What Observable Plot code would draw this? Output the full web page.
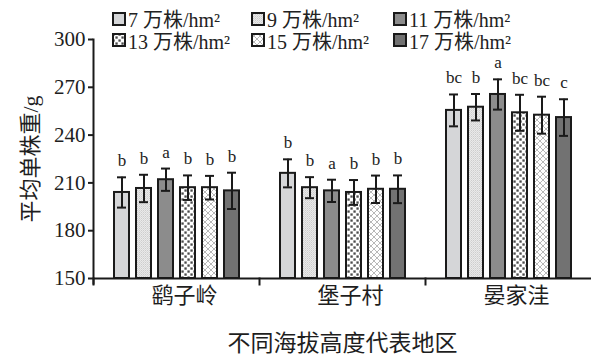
<!DOCTYPE html>
<html>
<head>
<meta charset="utf-8">
<script src="https://cdn.jsdelivr.net/npm/d3@7"></script>
<script src="https://cdn.jsdelivr.net/npm/@observablehq/plot@0.6"></script>
<style>
  body { margin: 0; background: #fff; }
  #wrap { position: relative; width: 592px; height: 356px; }
  .legend {
    position: absolute; left: 112px; top: 8px;
    display: grid; grid-template-columns: 139px 142px auto; grid-auto-rows: 21.5px;
    font-family: "Liberation Serif", "Noto Sans CJK SC", serif; font-size: 20px; color: #222;
  }
  .legend .item { display: flex; align-items: center; white-space: nowrap; }
  .legend svg { margin-right: 2px; flex: none; }
</style>
</head>
<body>
<div id="wrap"></div>
<script>
// Average single-plant weight (g) by planting density in three altitude regions
const regions = ["鹞子岭", "堡子村", "晏家洼"];
const densities = [7, 9, 11, 13, 15, 17];
const meanWeight = [
  [204, 206.5, 212, 207, 207, 205],
  [216, 207, 205, 204, 206, 206],
  [255.5, 257.5, 265.5, 254, 252.5, 251]
];
const sdWeight = [
  [9.5, 8.6, 7, 7.7, 7.4, 11.4],
  [8.8, 6.6, 7, 7.8, 8.6, 8.7],
  [10, 8.3, 9.5, 11.3, 11.6, 11.5]
];
const sigLetters = [
  ["b", "b", "a", "b", "b", "b"],
  ["b", "b", "a", "b", "b", "b"],
  ["bc", "b", "a", "bc", "bc", "c"]
];
const yTicks = [150, 180, 210, 240, 270, 300];
const yTitle = "平均单株重/g";
const xTitle = "不同海拔高度代表地区";

const rows = regions.flatMap((region, i) => densities.map((density, j) => ({
  region, density,
  mean: meanWeight[i][j], sd: sdWeight[i][j], letter: sigLetters[i][j]
})));

// Bar fills: solid greys plus three textures
const fills = ["#d5d6d8", "url(#tex9)", "#8c8c8c", "url(#tex13)", "url(#tex15)", "#727272"];

const defs = `
<svg width="0" height="0" style="position:absolute">
  <defs>
    <pattern id="tex9" width="2" height="2" patternUnits="userSpaceOnUse">
      <rect width="2" height="2" fill="#e9e9e9"/>
      <rect width="1" height="1" fill="#cdcdcd"/>
      <rect x="1" y="1" width="1" height="1" fill="#d9d9d9"/>
    </pattern>
    <pattern id="tex13" width="6" height="6" patternUnits="userSpaceOnUse">
      <rect width="6" height="6" fill="#fff"/>
      <rect x="0.4" y="0.4" width="2.3" height="2.3" fill="#4a4a4a"/>
      <rect x="3.4" y="3.4" width="2.3" height="2.3" fill="#4a4a4a"/>
    </pattern>
    <pattern id="tex15" width="6" height="6" patternUnits="userSpaceOnUse">
      <rect width="6" height="6" fill="#fff"/>
      <path d="M0,0L6,6M6,0L0,6" stroke="#9a9a9a" stroke-width="0.7"/>
    </pattern>
  </defs>
</svg>`;

const wrap = document.getElementById("wrap");
wrap.insertAdjacentHTML("beforeend", defs);

const serif = "'Liberation Serif', 'Noto Sans CJK SC', serif";
const ink = "#1e1e1e";

const chart = Plot.plot({
  width: 592,
  height: 356,
  marginTop: 39,
  marginBottom: 78,
  marginLeft: 92,
  marginRight: 0,
  style: { fontFamily: serif, color: ink, background: "transparent", overflow: "visible" },
  fx: { domain: regions, padding: 0 },
  x: { domain: densities, paddingInner: 0.32, paddingOuter: 0, insetLeft: 20.5, insetRight: 19.5, axis: null },
  y: { domain: [150, 300] },
  color: { type: "ordinal", domain: densities, range: fills },
  marks: [
    Plot.barY(rows, { fx: "region", x: "density", y1: 150, y2: "mean", fill: "density", stroke: "#1a1a1a", strokeWidth: 2 }),
    Plot.ruleX(rows, { fx: "region", x: "density", y1: d => d.mean - d.sd, y2: d => d.mean + d.sd, stroke: "#1a1a1a", strokeWidth: 2 }),
    Plot.tickY(rows, { fx: "region", x: "density", y: d => d.mean - d.sd, insetLeft: 3, insetRight: 3, stroke: "#1a1a1a", strokeWidth: 2 }),
    Plot.tickY(rows, { fx: "region", x: "density", y: d => d.mean + d.sd, insetLeft: 3, insetRight: 3, stroke: "#1a1a1a", strokeWidth: 2 }),
    Plot.text(rows, { fx: "region", x: "density", y: d => d.mean + d.sd, text: "letter", lineAnchor: "bottom", dy: -11, fontSize: 17, fill: "#222" }),
    Plot.ruleY([150], { stroke: "#1a1a1a", strokeWidth: 2 }),
    Plot.frame({ anchor: "left", facetAnchor: "left", insetBottom: -5, stroke: "#1a1a1a", strokeWidth: 2 }),
    Plot.frame({ anchor: "left", insetTop: 239, insetBottom: -6, stroke: "#1a1a1a", strokeWidth: 2 }),
    Plot.axisY({ ticks: yTicks, tickSize: 5, tickPadding: 3, fontSize: 21, strokeWidth: 2, color: ink, label: null }),
    Plot.text([yTitle], { frameAnchor: "left", facetAnchor: "left", rotate: -90, textAnchor: "middle", dx: -63, fontSize: 22, fill: ink }),
    Plot.axisFx({ anchor: "bottom", tickSize: 0, tickPadding: 9, fontSize: 22, dx: 8, color: ink, label: null }),
    Plot.axisFx({
      anchor: "bottom", tickSize: 0, tickFormat: () => "", fontSize: 23, dx: -10, color: ink,
      label: xTitle, labelAnchor: "center", labelArrow: "none", labelOffset: 72
    })
  ]
});
chart.style.position = "absolute";
chart.style.left = "0";
chart.style.top = "0";
wrap.appendChild(chart);

// Legend: two rows of three density swatches
const legend = document.createElement("div");
legend.className = "legend";
densities.forEach((d, j) => {
  const item = document.createElement("div");
  item.className = "item";
  item.innerHTML = `<svg width="14" height="14"><rect x="1" y="1" width="12" height="12" fill="${fills[j]}" stroke="#1a1a1a" stroke-width="2"/></svg><span>${d} 万株/hm²</span>`;
  legend.appendChild(item);
});
wrap.appendChild(legend);
</script>
</body>
</html>
